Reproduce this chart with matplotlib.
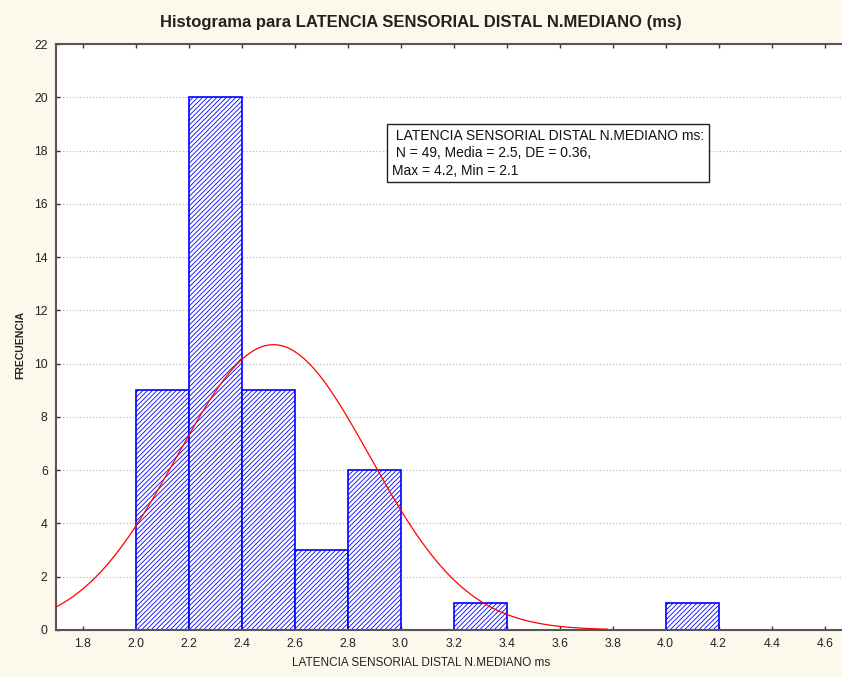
import numpy as np
import matplotlib
matplotlib.use("Agg")
import matplotlib.pyplot as plt

plt.rcParams['font.family'] = ['Liberation Sans', 'DejaVu Sans']
plt.rcParams['hatch.linewidth'] = 0.6
plt.rcParams['hatch.color'] = '#3a3aff'

bin_left = [2.0, 2.2, 2.4, 2.6, 2.8, 3.0, 3.2, 3.4, 3.6, 3.8, 4.0]
counts = [9, 20, 9, 3, 6, 0, 1, 0, 0, 0, 1]
bin_width = 0.2
n_total = 49
mean_val = 2.52
sd_val = 0.365
curve_range = (1.7, 3.78)

xticks = [1.8, 2.0, 2.2, 2.4, 2.6, 2.8, 3.0, 3.2, 3.4, 3.6, 3.8, 4.0, 4.2, 4.4, 4.6]
yticks = list(range(0, 23, 2))

fig = plt.figure(figsize=(8.42, 6.77), dpi=100, facecolor='#fdf8ec')
ax = fig.add_axes([0.0665, 0.0695, 0.935, 0.8655])
ax.set_facecolor('white')

for xl, c in zip(bin_left, counts):
    if c > 0:
        ax.bar(xl, c, width=bin_width, align='edge', facecolor='white',
               edgecolor='#0000ff', linewidth=1.2, hatch='///////', zorder=2)

xs = np.linspace(curve_range[0], curve_range[1], 300)
ys = n_total * bin_width * np.exp(-0.5 * ((xs - mean_val) / sd_val) ** 2) / (sd_val * np.sqrt(2 * np.pi))
ax.plot(xs, ys, color='#ff0000', linewidth=0.9, zorder=3)

ax.set_xlim(1.7, 4.67)
ax.set_ylim(0, 22)
ax.set_xticks(xticks)
ax.set_xticklabels([f"{t:.1f}" for t in xticks], fontsize=8.8)
ax.set_yticks(yticks)
ax.set_yticklabels([str(t) for t in yticks], fontsize=8.8)
ax.yaxis.grid(True, linestyle=(0, (1, 2)), color='#b0b0b0', linewidth=0.8, zorder=0)
ax.set_axisbelow(True)
ax.tick_params(axis='both', direction='in', length=3, width=1, colors='#333333', pad=6)
ax.tick_params(axis='x', top=True)
ax.tick_params(labelcolor='#222222')
for s in ['left', 'bottom', 'top']:
    ax.spines[s].set_color('#555555')
    ax.spines[s].set_linewidth(1.5)
ax.spines['right'].set_visible(False)

fig.text(0.5, 0.967, 'Histograma para LATENCIA SENSORIAL DISTAL N.MEDIANO (ms)',
         ha='center', va='center', fontsize=12, fontweight='bold', color='#222222')
fig.text(0.5, 0.02, 'LATENCIA SENSORIAL DISTAL N.MEDIANO ms', ha='center', va='center',
         fontsize=8.5, color='#222222')
fig.text(0.024, 0.49, 'FRECUENCIA', rotation=90, ha='center', va='center',
         fontsize=7.5, fontweight='bold', color='#222222')

ax.text(0.427, 0.855,
        ' LATENCIA SENSORIAL DISTAL N.MEDIANO ms:\n N = 49, Media = 2.5, DE = 0.36,\nMax = 4.2, Min = 2.1',
        transform=ax.transAxes, ha='left', va='top', fontsize=10, linespacing=1.3,
        color='#111111', zorder=5,
        bbox=dict(boxstyle='square,pad=0.35', facecolor='white', edgecolor='#222222', linewidth=1))

fig.savefig('out.png', dpi=100, facecolor=fig.get_facecolor())
